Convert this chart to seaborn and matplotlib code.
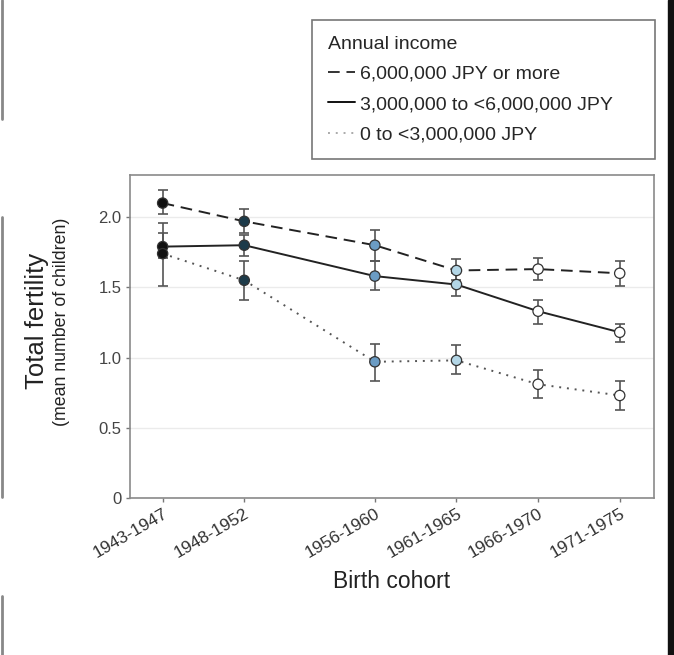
import matplotlib
matplotlib.use("Agg")
import matplotlib.pyplot as plt
from matplotlib.lines import Line2D
from matplotlib.patches import Rectangle
import seaborn as sns
import pandas as pd

sns.set_theme(style="white")
plt.rcParams['font.family'] = ['Liberation Sans', 'DejaVu Sans']

cohorts = ["1943-1947", "1948-1952", "1956-1960", "1961-1965", "1966-1970", "1971-1975"]
cohort_mid = [1945, 1950, 1958, 1963, 1968, 1973]
income_groups = ["6,000,000 JPY or more", "3,000,000 to <6,000,000 JPY", "0 to <3,000,000 JPY"]

high_mean = [2.10, 1.97, 1.80, 1.62, 1.63, 1.60]
high_lo = [2.02, 1.89, 1.69, 1.55, 1.55, 1.51]
high_hi = [2.19, 2.06, 1.91, 1.70, 1.71, 1.69]

mid_mean = [1.79, 1.80, 1.58, 1.52, 1.33, 1.18]
mid_lo = [1.71, 1.72, 1.48, 1.44, 1.24, 1.11]
mid_hi = [1.89, 1.87, 1.69, 1.60, 1.41, 1.24]

low_mean = [1.74, 1.55, 0.97, 0.98, 0.81, 0.73]
low_lo = [1.51, 1.41, 0.83, 0.88, 0.71, 0.63]
low_hi = [1.96, 1.69, 1.10, 1.09, 0.91, 0.83]

cohort_colors = ["#111111", "#1d3b4a", "#6b9cc4", "#b3d6e6", "#ffffff", "#ffffff"]
line_styles = [(0, (6, 3.5)), "-", (0, (1, 3))]
line_colors = ["#222222", "#222222", "#555555"]

rows = []
for g, m, lo, hi in zip(income_groups, [high_mean, mid_mean, low_mean],
                        [high_lo, mid_lo, low_lo], [high_hi, mid_hi, low_hi]):
    for c, x, v, l, h in zip(cohorts, cohort_mid, m, lo, hi):
        rows.append(dict(income=g, cohort=c, year=x, fert=v, lo=l, hi=h))
df = pd.DataFrame(rows)

fig = plt.figure(figsize=(6.74, 6.55), dpi=100)
ax = fig.add_axes([130/674, 1-498/655, (654-130)/674, (498-175)/655])

for g, ls, lc in zip(income_groups, line_styles, line_colors):
    sub = df[df.income == g]
    sns.lineplot(data=sub, x="year", y="fert", ax=ax, color=lc, linestyle=ls,
                 linewidth=1.4, legend=False, zorder=2)
    ax.errorbar(sub.year, sub.fert, yerr=[sub.fert - sub.lo, sub.hi - sub.fert],
                fmt="none", ecolor="#555555", elinewidth=1.2, capsize=3.5,
                capthick=1.2, zorder=3)

sns.scatterplot(data=df, x="year", y="fert", hue="cohort", hue_order=cohorts,
                palette=cohort_colors, s=55, edgecolor="#333333", linewidth=0.9,
                ax=ax, legend=False, zorder=4)

ax.set_xlim(1943.0, 1975.1)
ax.set_ylim(0, 2.3)
ax.set_yticks([0, 0.5, 1.0, 1.5, 2.0])
ax.set_yticklabels(["0", "0.5", "1.0", "1.5", "2.0"])
ax.set_xticks(cohort_mid)
ax.set_xticklabels(cohorts, rotation=30, ha="right", rotation_mode="anchor")
ax.yaxis.grid(True, color="#ebebeb", linewidth=1.0)
ax.xaxis.grid(False)
ax.set_axisbelow(True)
for sp in ax.spines.values():
    sp.set_color("#8a8a8a")
    sp.set_linewidth(1.2)
ax.tick_params(axis="both", which="both", length=3, width=1, color="#777777",
               labelcolor="#444444", labelsize=12, pad=3, bottom=True, left=True)
ax.tick_params(axis="x", labelcolor="#333333", labelsize=12.5)
ax.set_xlabel("")
ax.set_ylabel("")

fig.text(392/674, 1-582/655, "Birth cohort", ha="center", va="center",
         fontsize=16.5, color="#222222")
fig.text(37/674, 1-321/655, "Total fertility", ha="center", va="center",
         rotation=90, fontsize=18.5, color="#222222")
fig.text(62/674, 1-322/655, "(mean number of children)", ha="center", va="center",
         rotation=90, fontsize=12.8, color="#222222")

handles = [Line2D([0], [0], color=lc, linestyle=ls, linewidth=1.4)
           for ls, lc in zip(line_styles, ["#333333", "#111111", "#aaaaaa"])]
leg = fig.legend(handles, income_groups, title="Annual income",
                 loc="upper left", mode="expand",
                 bbox_to_anchor=(312/674, 1-157/655, 343/674, 137/655),
                 fontsize=14, title_fontsize=14, frameon=True, fancybox=False,
                 handlelength=1.4, handletextpad=0.25, borderpad=0.8,
                 borderaxespad=0, labelspacing=0.65, alignment="left")
leg.get_frame().set_edgecolor("#555555")
leg.get_frame().set_linewidth(1.2)

# screenshot border artifacts
for y0, y1 in [(0, 119), (217, 497), (596, 655)]:
    fig.add_artist(Line2D([1.5/674, 1.5/674], [1-y0/655, 1-y1/655], color="#888888",
                          linewidth=2, transform=fig.transFigure))
fig.add_artist(Rectangle((668/674, 0), 6/674, 1, color="#111111",
                         transform=fig.transFigure))

fig.savefig("out.png", dpi=100)
